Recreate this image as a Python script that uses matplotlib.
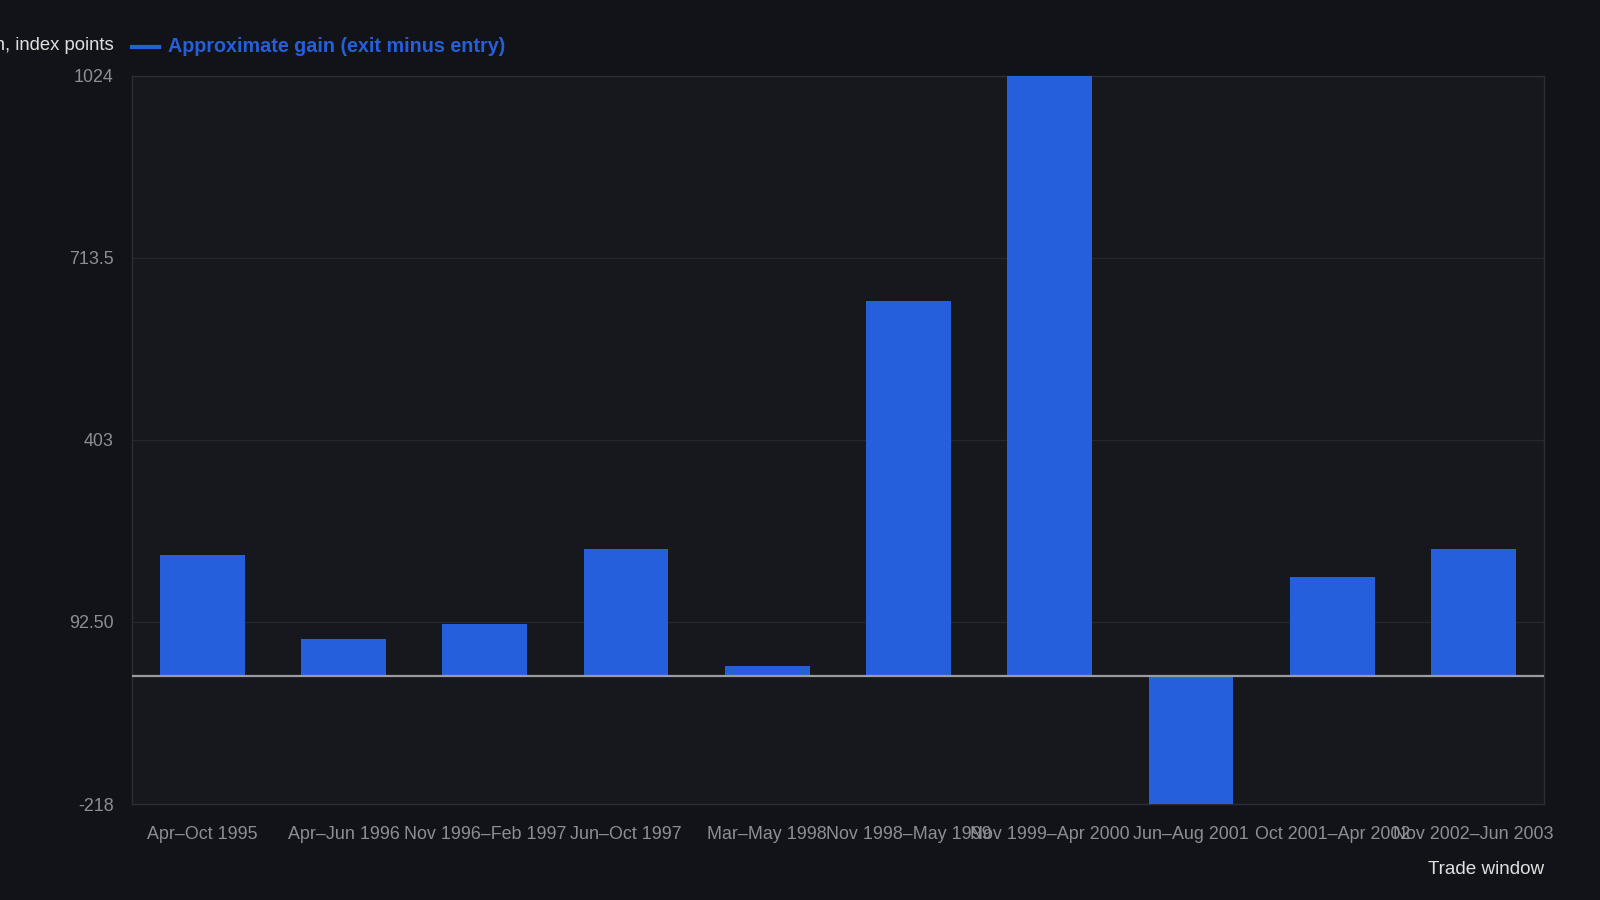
import matplotlib
matplotlib.use('Agg')
import matplotlib.pyplot as plt

windows = [
    'Apr–Oct 1995', 'Apr–Jun 1996', 'Nov 1996–Feb 1997', 'Jun–Oct 1997',
    'Mar–May 1998', 'Nov 1998–May 1999', 'Nov 1999–Apr 2000', 'Jun–Aug 2001',
    'Oct 2001–Apr 2002', 'Nov 2002–Jun 2003',
]
gains = [207, 64, 89, 216, 17, 640, 1024, -218, 169, 217]
y_ticks = [-218, 92.5, 403, 713.5, 1024]
y_tick_labels = ['-218', '92.50', '403', '713.5', '1024']

BG = '#111318'
PANEL = '#16181d'
BLUE = '#265fdc'

plt.rcParams['font.family'] = ['Liberation Sans', 'DejaVu Sans']

fig = plt.figure(figsize=(16, 9), dpi=100, facecolor=BG)
ax = fig.add_axes([0.0823, 0.1066, 0.8827, 0.8095], facecolor=PANEL)

ax.bar(range(len(gains)), gains, width=0.6, color=BLUE, zorder=3)
ax.axhline(0, color='#9a9ca0', linewidth=1.6, zorder=4)

ax.set_xlim(-0.5, len(gains) - 0.5)
ax.set_ylim(y_ticks[0], y_ticks[-1])
ax.set_yticks(y_ticks)
ax.set_yticklabels(y_tick_labels)
ax.set_xticks(range(len(windows)))
ax.set_xticklabels(windows)
ax.tick_params(axis='both', length=0, colors='#8b8e94', labelsize=12.9)
ax.tick_params(axis='x', pad=16)
ax.tick_params(axis='y', pad=13)

ax.grid(axis='y', color='#25272c', linewidth=1, zorder=0)
for spine in ax.spines.values():
    spine.set_color('#2c2e33')
    spine.set_linewidth(1)

fig.text(0.071, 0.949, 'Gain, index points', ha='right', va='center',
         color='#e0e0e0', fontsize=13.3)
fig.lines.append(plt.Line2D([0.0823, 0.0995], [0.948, 0.948], color=BLUE,
                            linewidth=3, transform=fig.transFigure))
fig.text(0.105, 0.948, 'Approximate gain (exit minus entry)', ha='left', va='center',
         color=BLUE, fontsize=14.2, fontweight='bold')

fig.text(0.965, 0.034, 'Trade window', ha='right', va='center',
         color='#e0e0e0', fontsize=13.6)

fig.savefig('out.png', dpi=100, facecolor=BG)
